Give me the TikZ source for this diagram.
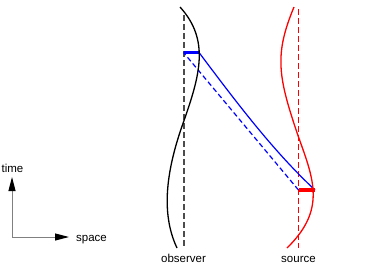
\documentclass[tikz,border=0pt]{standalone}
\usepackage{fontspec}
\setmainfont{Liberation Sans}
\usetikzlibrary{arrows.meta}
\begin{document}
\begin{tikzpicture}[x=1pt,y=-1pt,
  worldline/.style={line width=1.3pt, line join=round},
  restline/.style={line width=2pt, dash pattern=on 6pt off 3pt},
  lbl/.style={font=\fontsize{11.5}{13}\selectfont, inner sep=0pt},
  axis/.style={draw=gray, line width=1pt, -{Triangle[length=14pt,width=7pt,black]}},
  event/.style={line width=3.4pt}]
\useasboundingbox (0,0) rectangle (375,268);
% rest lines
\coordinate (obsA) at (183.5,15);
\coordinate (obsB) at (183.5,248);
\coordinate (srcA) at (298.5,9);
\coordinate (srcB) at (298.5,248);
\draw[restline, draw=black!70] (obsA) -- (obsB);
\draw[restline, draw=red, line width=1.7pt] (srcA) -- (srcB);
% events
\coordinate (rx0) at (183.5,52.5);
\coordinate (rx1) at (199,52.5);
\coordinate (em0) at (298.5,190);
\coordinate (em1) at (315,190);
% light signals
\draw[blue, line width=1.2pt, dash pattern=on 5pt off 3pt] (em0) -- (rx0);
\draw[blue, line width=1.2pt] (rx1) .. controls (234,99) and (272,150) .. (em1);
\draw[event, blue] (rx0) -- (rx1);
\draw[event, red] (em0) -- (em1);
% world lines
\coordinate (obsTop) at (180,7);
\coordinate (obsMid) at (183.5,122);
\coordinate (obsEnd) at (177,248);
\draw[worldline] (obsTop) .. controls (210,40) and (200,75) .. (obsMid)
  .. controls (167,168) and (160,212) .. (obsEnd);
\coordinate (srcTop) at (294,7);
\coordinate (srcMid) at (298.5,137);
\coordinate (srcEnd) at (287,248);
\draw[worldline, red] (srcTop) .. controls (274,55) and (278,77) .. (srcMid)
  .. controls (314,180) and (326,210) .. (srcEnd);
% labels
\node[lbl, anchor=base] (observer) at (183.5,262.5) {observer};
\node[lbl, anchor=base] (source) at (298.5,262.5) {source};
% axes
\coordinate (origin) at (12,237);
\coordinate (tip1) at (12,177);
\coordinate (tip2) at (69,237);
\draw[axis] (origin) -- (tip1);
\draw[axis] (origin) -- (tip2);
\node[lbl, anchor=base] (time) at (12.5,172) {time};
\node[lbl, anchor=base west] (space) at (76,241.5) {space};
\end{tikzpicture}
\end{document}
